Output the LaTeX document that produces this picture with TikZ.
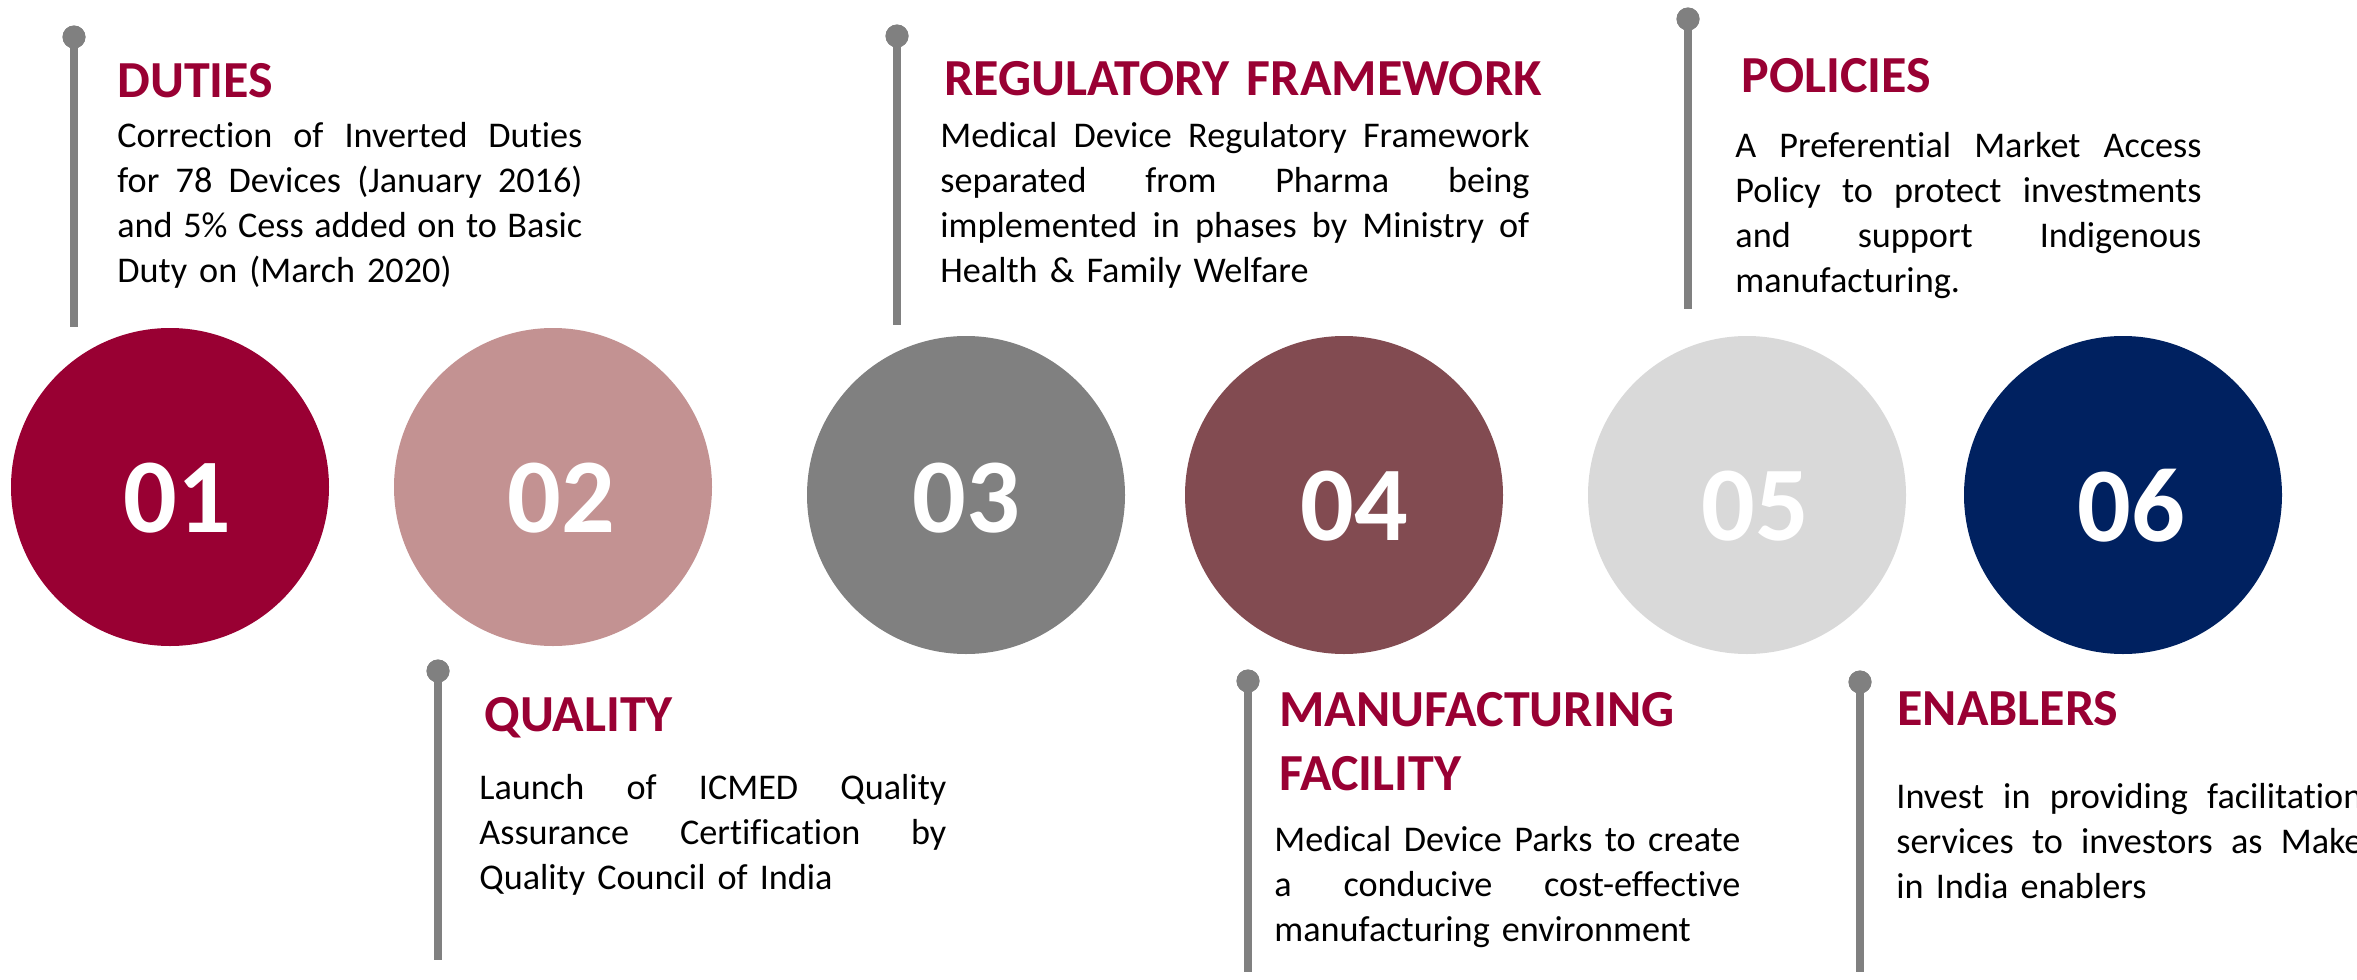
\documentclass[tikz,border=0pt]{standalone}
\usepackage{fontspec}
\setmainfont{Carlito}[Ligatures=NoCommon]
\definecolor{crim}{RGB}{153,0,51}
\definecolor{rose}{RGB}{195,146,146}
\definecolor{midgray}{RGB}{128,128,128}
\definecolor{wine}{RGB}{130,75,81}
\definecolor{lightgray}{RGB}{217,217,217}
\definecolor{navy}{RGB}{0,33,96}
\definecolor{polegray}{RGB}{128,128,128}
\newcommand{\jl}[2]{\makebox[#1][s]{\spaceskip=0.226em plus 1fil\relax #2}}
\begin{document}
\begin{tikzpicture}[x=0.5pt,y=-0.5pt,
  bubble/.style={circle, minimum size=159pt, inner sep=0pt, draw=none},
  num/.style={anchor=base, inner sep=0pt, text=white, font=\fontsize{53pt}{60pt}\selectfont\bfseries},
  ttl/.style={anchor=base west, inner sep=0pt, text=crim, text width=300pt, align=left, font=\fontsize{26pt}{32pt}\selectfont\bfseries},
  body/.style={anchor=base west, inner sep=0pt, text=black, text width=#1, font=\fontsize{18.1pt}{22.5pt}\selectfont},
  ball/.style={circle, fill=polegray, minimum size=11.5pt, inner sep=0pt},
  pole/.style={draw=polegray, line width=4pt}
]
\clip (0,0) rectangle (2357,980);

% circles
\node[bubble, fill=crim]      (c1) at (170,487) {};
\node[bubble, fill=rose]      (c2) at (553,487) {};
\node[bubble, fill=midgray]   (c3) at (966,495) {};
\node[bubble, fill=wine]      (c4) at (1344,495) {};
\node[bubble, fill=lightgray] (c5) at (1747,495) {};
\node[bubble, fill=navy]      (c6) at (2123,495) {};

\node[num] (n1) at (177,532) {01};
\node[num] (n2) at (561,532) {02};
\node[num] (n3) at (966,532) {03};
\node[num] (n4) at (1354,540) {04};
\node[num] (n5) at (1755,540) {05};
\node[num] (n6) at (2131,541) {06};

% poles
\coordinate (b1) at (74,327);
\coordinate (b2) at (438,960);
\coordinate (b3) at (897,325);
\coordinate (b4) at (1248,972);
\coordinate (b5) at (1688,309);
\coordinate (b6) at (1860,972);
\node[ball] (p1) at (74,37) {};
\node[ball] (p2) at (438,671) {};
\node[ball] (p3) at (897,36) {};
\node[ball] (p4) at (1248,681) {};
\node[ball] (p5) at (1688,19) {};
\node[ball] (p6) at (1860,682) {};
\draw[pole] (p1.center) -- (b1);
\draw[pole] (p2.center) -- (b2);
\draw[pole] (p3.center) -- (b3);
\draw[pole] (p4.center) -- (b4);
\draw[pole] (p5.center) -- (b5);
\draw[pole] (p6.center) -- (b6);
\node[ball] at (p1) {};
\node[ball] at (p2) {};
\node[ball] at (p3) {};
\node[ball] at (p4) {};
\node[ball] at (p5) {};
\node[ball] at (p6) {};

% titles
\node[ttl] (t1) at (117,97) {DUTIES};
\node[ttl] (t2) at (484,731) {QUALITY};
\node[ttl] (t3) at (944,95) {REGULATORY FRAMEWORK};
\node[ttl] (t4) at (1279,726) {MANUFACTURING\\FACILITY};
\node[ttl] (t5) at (1741,92) {POLICIES};
\node[ttl] (t6) at (1897,725) {ENABLERS};

% bodies
\node[body=232.5pt] (d1) at (117,147) {\jl{232.5pt}{Correction of Inverted Duties}\\\jl{232.5pt}{for 78 Devices (January 2016)}\\\jl{232.5pt}{and 5\% Cess added on to Basic}\\Duty on (March 2020)};
\node[body=233.5pt] (d2) at (479,799) {\jl{233.5pt}{Launch of ICMED Quality}\\\jl{233.5pt}{Assurance Certification by}\\Quality Council of India};
\node[body=294.5pt] (d3) at (940,147) {\jl{294.5pt}{Medical Device Regulatory Framework}\\\jl{294.5pt}{separated from Pharma being}\\\jl{294.5pt}{implemented in phases by Ministry of}\\Health \& Family Welfare};
\node[body=233pt] (d4) at (1274,851) {\jl{233pt}{Medical Device Parks to create}\\\jl{233pt}{a conducive cost-effective}\\manufacturing environment};
\node[body=233pt] (d5) at (1735,157) {\jl{233pt}{A Preferential Market Access}\\\jl{233pt}{Policy to protect investments}\\\jl{233pt}{and support Indigenous}\\manufacturing.};
\node[body=233pt] (d6) at (1896,808) {\jl{233pt}{Invest in providing facilitation}\\\jl{233pt}{services to investors as Make}\\in India enablers};
\end{tikzpicture}
\end{document}
